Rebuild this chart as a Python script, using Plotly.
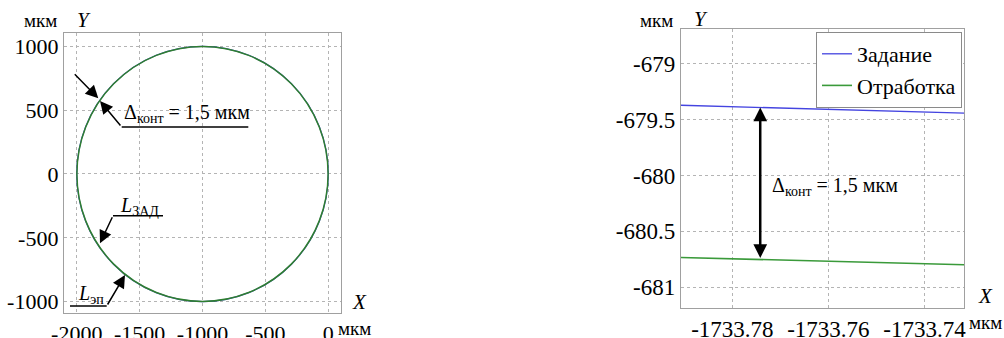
import numpy as np
import plotly.graph_objects as go

W, H = 1004, 338
FONT = "Times New Roman"

# ---- left panel: full circular contour (мкм) ----
circle_center = (-1000.0, 0.0)
radius_target = 1000.0          # L_зад
contour_error = 1.5             # Δконт, мкм
radius_actual = radius_target - contour_error   # L_эп

left_xticks = [-2000, -1500, -1000, -500, 0]
left_xticklabels = ["-2000", "-1500", "-1000", "-500", "0"]
left_yticks = [1000, 500, 0, -500, -1000]
left_yticklabels = ["1000", "500", "0", "-500", "-1000"]

# ---- right panel: zoomed fragment ----
x_zoom = [-1733.791, -1733.7317]
y_zadanie = [-679.370, -679.442]
y_otrabotka = [-680.734, -680.800]
x_arrow = -1733.7742

right_xticks = [-1733.78, -1733.76, -1733.74]
right_xticklabels = ["-1733.78", "-1733.76", "-1733.74"]
right_yticks = [-679, -679.5, -680, -680.5, -681]
right_yticklabels = ["-679", "-679.5", "-680", "-680.5", "-681"]

BLUE = "#4444e0"
GREEN = "#3a9a3a"
GREEN_DARK = "#2f7f2f"


def px(x):
    return x / W


def py(y):
    return 1 - y / H


fig = go.Figure()

# right panel lines
fig.add_trace(go.Scatter(x=x_zoom, y=y_zadanie, mode="lines", name="Задание",
                         line=dict(color=BLUE, width=1.3), xaxis="x2", yaxis="y2"))
fig.add_trace(go.Scatter(x=x_zoom, y=y_otrabotka, mode="lines", name="Отработка",
                         line=dict(color=GREEN, width=1.6), xaxis="x2", yaxis="y2"))

# invisible trace anchoring the left axes
fig.add_trace(go.Scatter(x=[circle_center[0]], y=[circle_center[1]], mode="markers",
                         marker=dict(opacity=0), showlegend=False, hoverinfo="skip",
                         xaxis="x", yaxis="y"))

shapes = []
# circles: target then actual path on top
for r, col, w in [(radius_target, BLUE, 1.2), (radius_actual, GREEN_DARK, 1.5)]:
    shapes.append(dict(type="circle", xref="x", yref="y",
                       x0=circle_center[0] - r, x1=circle_center[0] + r,
                       y0=circle_center[1] - r, y1=circle_center[1] + r,
                       line=dict(color=col, width=w), layer="above"))

# leader lines under the callout labels (paper coords)
for (x0, x1, y) in [(121.7, 248.3, 127), (113, 163, 215.7), (70, 106.7, 306)]:
    shapes.append(dict(type="line", xref="paper", yref="paper",
                       x0=px(x0), x1=px(x1), y0=py(y), y1=py(y),
                       line=dict(color="black", width=1.5)))


def axis_style(size):
    return dict(showgrid=True, gridcolor="#b4b4b4", griddash="dot", gridwidth=1,
                showline=True, linecolor="#a0a0a0", linewidth=1.3, mirror=True,
                zeroline=False, ticks="",
                tickfont=dict(family=FONT, size=size, color="black"))


annotations = []


def arrow_to(tip, tail):
    annotations.append(dict(
        xref="paper", yref="paper", x=px(tip[0]), y=py(tip[1]),
        ax=tail[0] - tip[0], ay=tail[1] - tip[1], text="",
        showarrow=True, arrowhead=2, arrowsize=1.7, arrowwidth=1.5,
        arrowcolor="black"))


def label(x, y, text, size=20, xanchor="left"):
    annotations.append(dict(
        xref="paper", yref="paper", x=px(x), y=py(y), text=text,
        showarrow=False, xanchor=xanchor, yanchor="middle",
        font=dict(family=FONT, size=size, color="black")))


# left callouts
arrow_to((98.3, 98.3), (73.3, 72.7))
arrow_to((100, 101), (121.7, 127))
label(122, 114, "Δ<sub>конт</sub> = 1,5 мкм")
arrow_to((100, 243.3), (113, 215.7))
label(118, 206, "<i>L</i><sub>ЗАД</sub>")
arrow_to((125, 275), (106.7, 306))
label(76, 294, "<i>L</i><sub>эп</sub>")

# axis unit labels
label(22, 21, "мкм", size=19)
label(75, 20, "<i>Y</i>", size=21)
label(350, 302, "<i>X</i>", size=21)
label(336, 328, "мкм", size=19)
label(638, 21, "мкм", size=19)
label(692, 19, "<i>Y</i>", size=21)
label(976, 296, "<i>X</i>", size=21)
label(967, 322, "мкм", size=19)

# right double arrow between the two paths
y_top = float(np.interp(x_arrow, x_zoom, y_zadanie))
y_bot = float(np.interp(x_arrow, x_zoom, y_otrabotka))
annotations.append(dict(
    xref="x2", yref="y2", axref="x2", ayref="y2",
    x=x_arrow, y=y_top, ax=x_arrow, ay=y_bot, text="",
    showarrow=True, arrowhead=2, startarrowhead=2, arrowside="end+start",
    arrowsize=1.1, startarrowsize=1.1, arrowwidth=2.5, arrowcolor="black"))
label(770, 186, "Δ<sub>конт</sub> = 1,5 мкм")

fig.update_layout(
    width=W, height=H, margin=dict(l=0, r=0, t=0, b=0),
    template="none",
    paper_bgcolor="white", plot_bgcolor="white",
    xaxis=dict(domain=[px(64), px(341)], range=[-2101, 101], anchor="y",
               tickvals=left_xticks, ticktext=left_xticklabels, **axis_style(22)),
    yaxis=dict(domain=[py(313), py(33)], range=[-1089, 1104], anchor="x",
               tickvals=left_yticks, ticktext=left_yticklabels, **axis_style(22)),
    xaxis2=dict(domain=[px(681), px(964.3)], range=[-1733.7907, -1733.7317], anchor="y2",
                tickvals=right_xticks, ticktext=right_xticklabels, **axis_style(23)),
    yaxis2=dict(domain=[py(308.3), py(29.3)], range=[-681.19, -678.69], anchor="x2",
                tickvals=right_yticks, ticktext=right_yticklabels, **axis_style(23)),
    legend=dict(x=px(962), y=py(32), xanchor="right", yanchor="top",
                bgcolor="white", bordercolor="#8a8a8a", borderwidth=1,
                font=dict(family=FONT, size=22, color="black"),
                itemwidth=30, tracegroupgap=0),
    shapes=shapes,
    annotations=annotations,
    showlegend=True,
)

fig.write_html("out.html")
